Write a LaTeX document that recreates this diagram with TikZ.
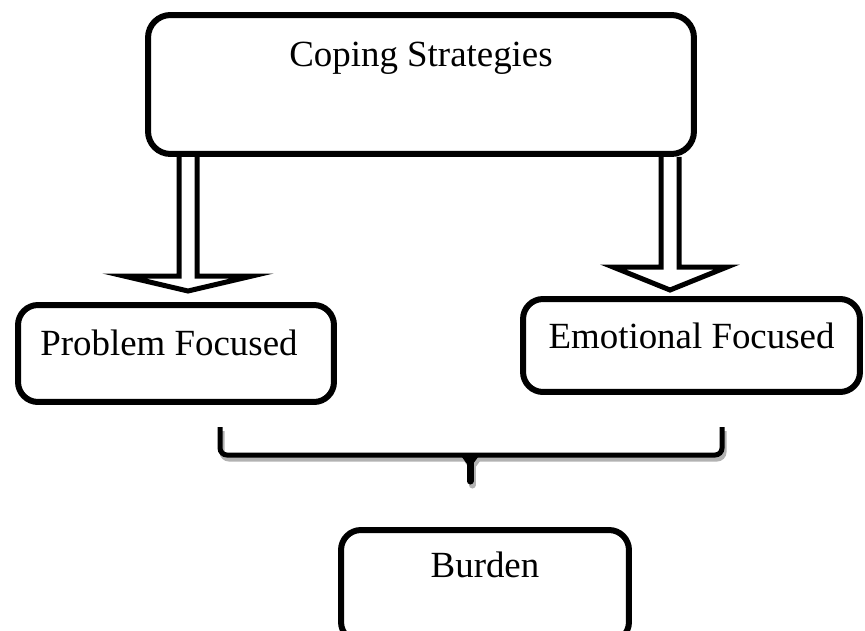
\documentclass[tikz,border=0pt]{standalone}
\usepackage{fontspec}
\setmainfont{Liberation Serif}
\usetikzlibrary{calc}
\tikzset{
box/.style={
draw,
line width=0.12cm,
rounded corners=0.4cm,
inner xsep=0pt,
inner ysep=0pt,
anchor=north,
font=\fontsize{21}{25}\selectfont
},
hollow/.style={
draw,
line width=0.1cm
},
bracket/.style={
line width=0.1cm,
rounded corners=4pt
}
}

\begin{document}
\begin{tikzpicture}[x=0.02cm,y=-0.02cm]
\clip (0,0) rectangle (865,630);
\node[box,minimum width=10.92cm,text height=1.04cm,text depth=1.74cm,rounded corners=0.45cm](cope) at (421,12){Coping Strategies};
\node[box,minimum width=6.32cm,text height=1cm,text depth=0.94cm](prob) at (176,302){Problem Focused\hspace*{0.28cm}};
\node[box,minimum width=6.74cm,text height=0.98cm,text depth=0.88cm](emo) at (691.5,296){Emotional Focused};
\node[box,minimum width=5.76cm,text height=0.94cm,text depth=1.3cm](burd) at (485,527){Burden};

% hollow arrows down to the two kinds
\coordinate (ltip) at (188,291);
\coordinate (rtip) at (670,290);
\foreach \t/\w/\l in {ltip/1.28/0.3,rtip/1.14/0.46}
\draw[hollow] let \p1=(cope.south -| \t), \p2=(\t) in
(\x1-0.18cm,\y1) -- (\x1-0.18cm,\y2+\l*1cm) -- (\x1-\w*1cm,\y2+\l*1cm) -- (\p2)
-- (\x1+\w*1cm,\y2+\l*1cm) -- (\x1+0.18cm,\y2+\l*1cm) -- (\x1+0.18cm,\y1);

% brace with its shadow
\foreach \c/\dx/\dy in {gray!60/2/4,black/0/0}{
\draw[bracket,draw=\c,shift={(\dx,\dy)}] (220,427) -- (220,455) -- (722,455) -- (722,427);
\fill[\c,shift={(\dx,\dy)}] (459,453) -- (481,453) -- (470,468) -- cycle;
\draw[\c,line width=0.14cm,line cap=round,shift={(\dx,\dy)}] (470,458) -- (470,481);
}
\end{tikzpicture}
\end{document}
